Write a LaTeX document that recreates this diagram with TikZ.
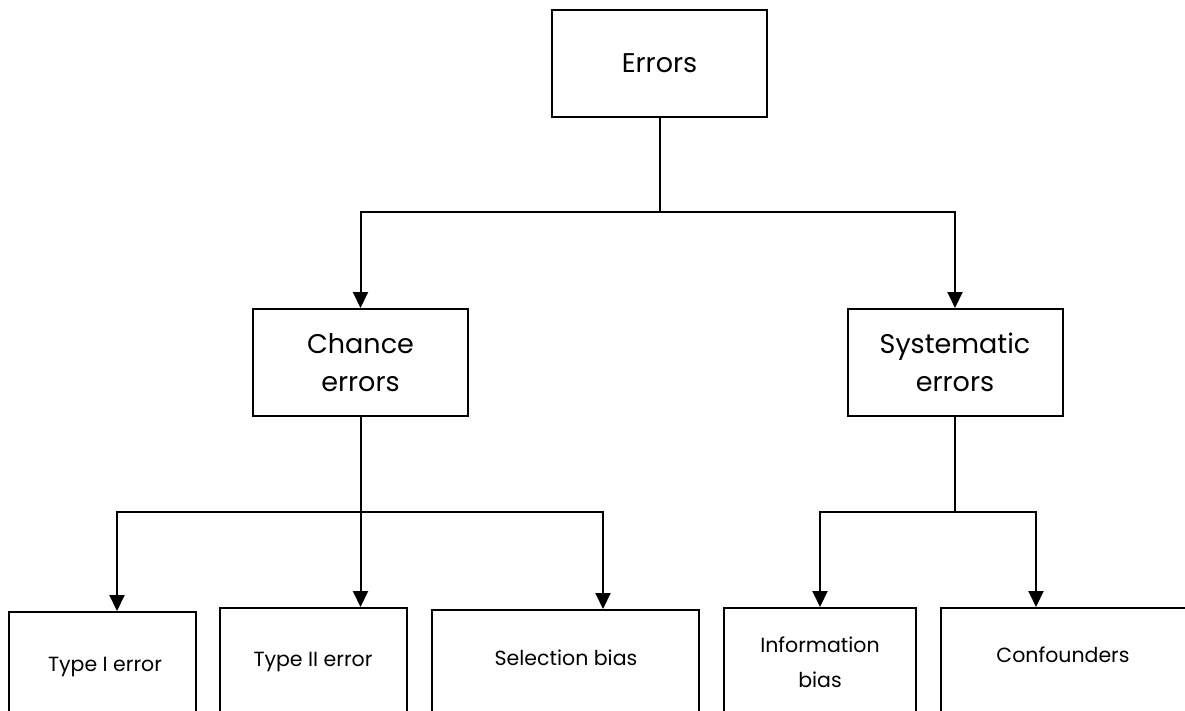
\documentclass[tikz,border=0pt]{standalone}
\usepackage{fontspec}
\setmainfont{Poppins}
\usetikzlibrary{arrows.meta, positioning, calc}

\begin{document}
\begin{tikzpicture}[
  x=1pt, y=-1pt,
  box/.style={draw, line width=2pt, minimum width=215pt, minimum height=107pt,
              inner sep=0pt, align=center, font=\fontsize{27}{38}\selectfont},
  leaf/.style={draw, line width=2pt, minimum height=160pt, inner sep=0pt, anchor=north},
  txt/.style={font=\fontsize{20.5}{35}\selectfont, align=center},
  edge/.style={line width=2pt},
  arr/.style={edge, -{Triangle[length=16pt, width=15pt]}},
]
\useasboundingbox (0,0) rectangle (1185,710);
\clip (0,0) rectangle (1185,710);

% --- top levels ---
\node[box] (err) at (659.5,63.5) {Errors};
\node[box] (chance) at (360.5,362.5) {Chance\\errors};
\node[box] (sys) at (955,362.5) {Systematic\\errors};

% --- leaves (cut off at the bottom) ---
\node[leaf, minimum width=187pt] (t1) at (102.5,611) {};
\node[leaf, minimum width=187pt] (t2) at (313.5,607) {};
\node[leaf, minimum width=267pt] (sel) at (565.5,609) {};
\node[leaf, minimum width=192pt] (info) at (820,607) {};
\node[leaf, minimum width=260pt] (conf) at (1071,607) {};

\node[txt] (t1txt) at (105,667) {Type I error};
\node[txt] (t2txt) at (313,662) {Type II error};
\node[txt] (seltxt) at (566,658) {Selection bias};
\node[txt] (infotxt) at (820,662) {Information\\bias};
\node[txt] (conftxt) at (1063,655) {Confounders};

% --- connectors ---
\coordinate (ej) at (659.5,212);
\draw[edge] (err) -- (ej);
\draw[arr] (ej) -| (chance.north);
\draw[arr] (ej) -| (sys.north);

\coordinate (cj) at (360.5,512);
\draw[edge] (chance) -- (cj);
\draw[arr] (cj) -| ([xshift=109pt]t1.north west);
\draw[arr] (cj) -- (cj |- t2.north);
\draw[arr] (cj) -| ([xshift=172pt]sel.north west);

\coordinate (sj) at (955,512);
\draw[edge] (sys) -- (sj);
\draw[arr] (sj) -| (info.north);
\draw[arr] (sj) -| ([xshift=96pt]conf.north west);

\end{tikzpicture}
\end{document}
